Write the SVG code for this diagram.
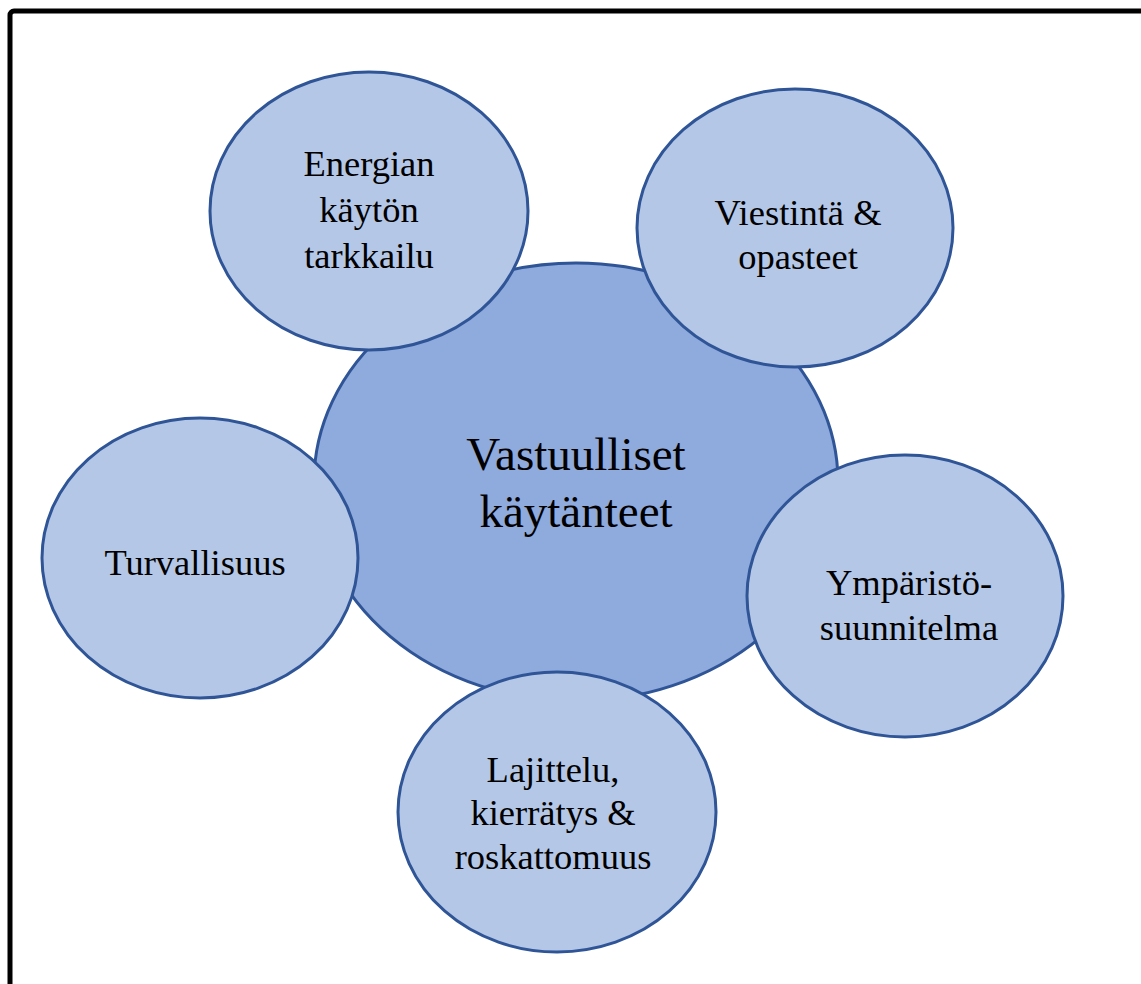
<svg xmlns="http://www.w3.org/2000/svg" width="1141" height="984" viewBox="0 0 1141 984">
<style>
.sat{fill:#b4c7e7;stroke:#2f5597;stroke-width:3}
.hub{fill:#8faadc;stroke:#2f5597;stroke-width:3}
text{font-family:'Liberation Serif','Times New Roman',Times,serif;fill:#000;text-anchor:middle}
.t{font-size:36.5px}
.tc{font-size:47px}
</style>
<rect x="0" y="0" width="1141" height="984" fill="#fff"/>
<rect x="10" y="11" width="1150" height="1000" rx="4" fill="none" stroke="#000" stroke-width="5"/>
<g id="connectors"></g>
<g id="center">
<ellipse class="hub" cx="576" cy="482" rx="262" ry="219"/>
<text class="tc" x="576" y="470">Vastuulliset</text>
<text class="tc" x="576" y="527">käytänteet</text>
</g>
<g id="energia">
<ellipse class="sat" cx="369" cy="211" rx="159" ry="139"/>
<text class="t" x="369" y="176">Energian</text>
<text class="t" x="369" y="222">käytön</text>
<text class="t" x="369" y="268">tarkkailu</text>
</g>
<g id="viestinta">
<ellipse class="sat" cx="795" cy="228" rx="158" ry="139"/>
<text class="t" x="798" y="225">Viestintä &amp;</text>
<text class="t" x="798" y="269">opasteet</text>
</g>
<g id="turvallisuus">
<ellipse class="sat" cx="200" cy="558" rx="158" ry="140"/>
<text class="t" x="195" y="575">Turvallisuus</text>
</g>
<g id="ymparisto">
<ellipse class="sat" cx="905" cy="596" rx="158" ry="141"/>
<text class="t" x="909" y="595">Ympäristö-</text>
<text class="t" x="909" y="640">suunnitelma</text>
</g>
<g id="lajittelu">
<ellipse class="sat" cx="557" cy="812" rx="159" ry="140"/>
<text class="t" x="553" y="782">Lajittelu,</text>
<text class="t" x="553" y="825">kierrätys &amp;</text>
<text class="t" x="553" y="869">roskattomuus</text>
</g>
</svg>
